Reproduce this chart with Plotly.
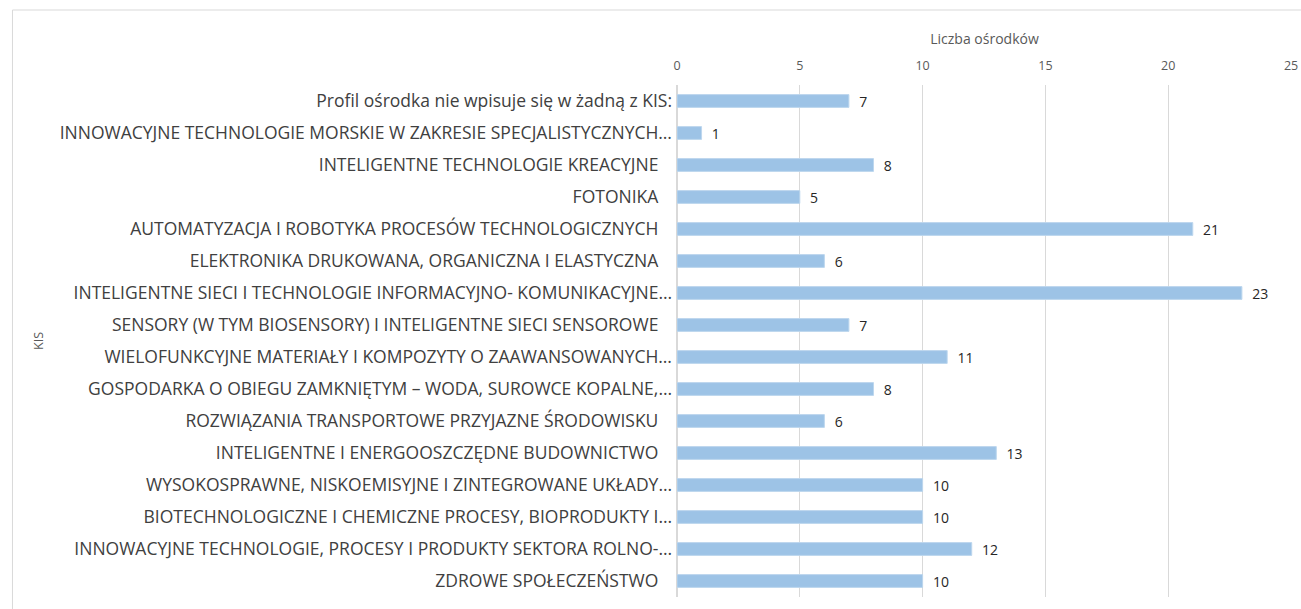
import plotly.graph_objects as go

categories = [
    "Profil ośrodka nie wpisuje się w żadną z KIS:",
    "INNOWACYJNE TECHNOLOGIE MORSKIE W ZAKRESIE SPECJALISTYCZNYCH…",
    "INTELIGENTNE TECHNOLOGIE KREACYJNE",
    "FOTONIKA",
    "AUTOMATYZACJA I ROBOTYKA PROCESÓW TECHNOLOGICZNYCH",
    "ELEKTRONIKA DRUKOWANA, ORGANICZNA I ELASTYCZNA",
    "INTELIGENTNE SIECI I TECHNOLOGIE INFORMACYJNO- KOMUNIKACYJNE…",
    "SENSORY (W TYM BIOSENSORY) I INTELIGENTNE SIECI SENSOROWE",
    "WIELOFUNKCYJNE MATERIAŁY I KOMPOZYTY O ZAAWANSOWANYCH…",
    "GOSPODARKA O OBIEGU ZAMKNIĘTYM – WODA, SUROWCE KOPALNE,…",
    "ROZWIĄZANIA TRANSPORTOWE PRZYJAZNE ŚRODOWISKU",
    "INTELIGENTNE I ENERGOOSZCZĘDNE BUDOWNICTWO",
    "WYSOKOSPRAWNE, NISKOEMISYJNE I ZINTEGROWANE UKŁADY…",
    "BIOTECHNOLOGICZNE I CHEMICZNE PROCESY, BIOPRODUKTY I…",
    "INNOWACYJNE TECHNOLOGIE, PROCESY I PRODUKTY SEKTORA ROLNO-…",
    "ZDROWE SPOŁECZEŃSTWO",
]
values = [7, 1, 8, 5, 21, 6, 23, 7, 11, 8, 6, 13, 10, 10, 12, 10]
x_ticks = [0, 5, 10, 15, 20, 25]

labels = [c if (c.endswith("…") or c.endswith(":")) else c + "\u00a0\u00a0\u00a0" for c in categories]

W, H = 1301, 609
ml, mr, mt, mb = 677, 3, 85, 12

fig = go.Figure(go.Bar(
    x=values,
    y=list(range(len(categories))),
    orientation="h",
    marker=dict(color="#9DC3E6", line=dict(color="#BDD7EE", width=1)),
    text=["\u00a0\u00a0" + str(v) for v in values],
    textposition="outside",
    constraintext="none",
    textfont=dict(family="Open Sans", size=14, color="#262626"),
    cliponaxis=False,
    width=0.4,
))

fig.update_layout(
    width=W, height=H,
    margin=dict(l=ml, r=mr, t=mt, b=mb),
    paper_bgcolor="white", plot_bgcolor="white",
    showlegend=False,
    font=dict(family="Open Sans", color="#595959"),
    xaxis=dict(
        side="top", range=[0, 25.04], tickvals=x_ticks, ticktext=[str(t) for t in x_ticks],
        showgrid=True, gridcolor="#D9D9D9", gridwidth=1, zeroline=True, zerolinecolor="#D9D9D9",
        showline=False, ticks="", tickfont=dict(size=12.5, color="#595959"),
        ticklabelstandoff=12, ticklabeloverflow="allow",
        title=dict(text="Liczba ośrodków", font=dict(size=14, color="#595959"), standoff=8),
        fixedrange=True,
    ),
    yaxis=dict(
        tickvals=list(range(len(categories))), ticktext=labels,
        range=[len(categories) - 0.5, -0.5],
        showgrid=False, zeroline=False, showline=False, ticks="",
        ticklabelstandoff=4,
        tickfont=dict(size=17.5, color="#404040"),
        title=dict(text="KIS", font=dict(size=12.5, color="#595959"), standoff=13),
        fixedrange=True,
    ),
    shapes=[dict(type="rect", xref="paper", yref="paper",
                 x0=(6 - ml) / (W - ml - mr), x1=(W + 20 - ml) / (W - ml - mr),
                 y0=-0.2, y1=(H - 10 - mb) / (H - mt - mb),
                 line=dict(color="#D9D9D9", width=1), layer="below")],
)

fig.write_html("out.html", config={"displayModeBar": False},
               post_script="document.body.style.margin='0';")
